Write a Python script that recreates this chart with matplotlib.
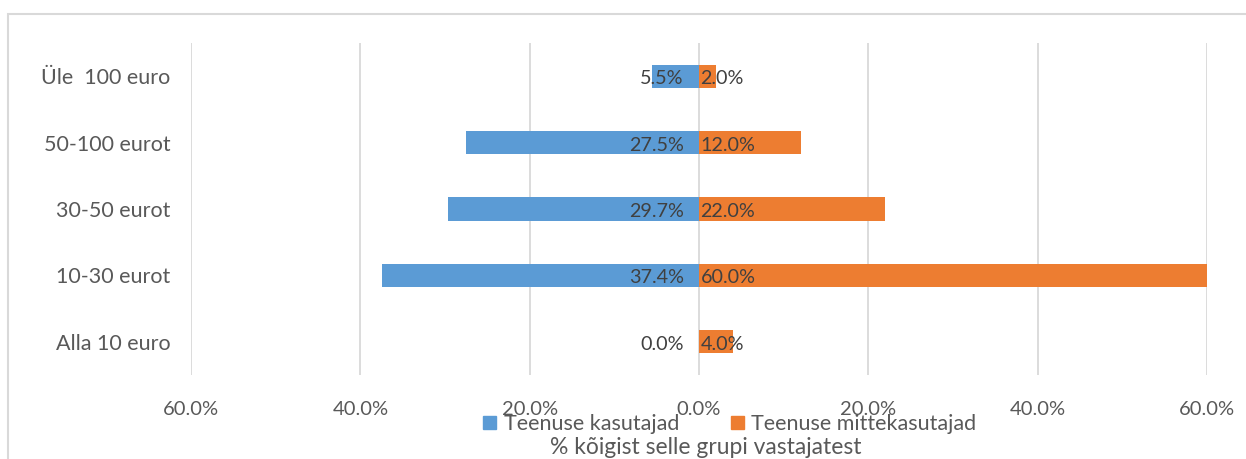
import matplotlib
matplotlib.use("Agg")
import matplotlib.pyplot as plt
from matplotlib.patches import Rectangle, Patch
from matplotlib.ticker import FuncFormatter, FixedLocator

plt.rcParams['font.family'] = ['Lato', 'DejaVu Sans']

categories = ["Üle  100 euro", "50-100 eurot", "30-50 eurot", "10-30 eurot", "Alla 10 euro"]
users = [5.5, 27.5, 29.7, 37.4, 0.0]
non_users = [2.0, 12.0, 22.0, 60.0, 4.0]
series_names = ["Teenuse kasutajad", "Teenuse mittekasutajad"]
xticks = [-60, -40, -20, 0, 20, 40, 60]
x_title = "% kõigist selle grupi vastajatest"

blue = "#5B9BD5"
orange = "#ED7D31"

fig = plt.figure(figsize=(12.46, 4.59), dpi=100)
ax = fig.add_axes([191/1246, 1-375/459, (1207-191)/1246, (375-43)/459])

ypos = list(range(len(categories)))[::-1]
ax.barh(ypos, [-v for v in users], height=0.35, color=blue, zorder=3)
ax.barh(ypos, non_users, height=0.35, color=orange, zorder=3)

for y, v in zip(ypos, users):
    ax.annotate(f"{v:.1f}%", (0, y), xytext=(-11, -1.8), textcoords="offset points",
                ha="right", va="center", fontsize=14.2, color="#404040", zorder=4)
for y, v in zip(ypos, non_users):
    ax.annotate(f"{v:.1f}%", (0, y), xytext=(1, -1.8), textcoords="offset points",
                ha="left", va="center", fontsize=14.2, color="#404040", zorder=4)

ax.set_xlim(-60, 60)
ax.set_ylim(-0.5, 4.5)
ax.xaxis.set_major_locator(FixedLocator(xticks))
ax.xaxis.set_major_formatter(FuncFormatter(lambda v, p: f"{abs(v):.1f}%"))
ax.set_yticks(ypos)
ax.set_yticklabels(categories)
ax.tick_params(axis="both", length=0, colors="#595959")
ax.tick_params(axis="x", pad=19, labelsize=14.5)
ax.tick_params(axis="y", pad=15, labelsize=15.5)
ax.grid(axis="x", color="#D9D9D9", linewidth=1.3, zorder=0)
for s in ax.spines.values():
    s.set_visible(False)

# outer chart border
fig.add_artist(Rectangle((8/1246, -0.1), 1.2, 1-14/459+0.1, transform=fig.transFigure,
                         fill=False, edgecolor="#D9D9D9", linewidth=1.5))

handles = [Patch(color=blue), Patch(color=orange)]
fig.legend(handles, series_names, loc="center", bbox_to_anchor=(730/1246, 1-424/459),
           ncol=2, frameon=False, fontsize=15.5, labelcolor="#595959",
           handlelength=0.6, handleheight=0.6, handletextpad=0.35, columnspacing=2.4,
           borderpad=0, borderaxespad=0)
fig.text(706/1246, 1-447/459, x_title, ha="center", va="center", fontsize=16.5,
         color="#595959")

fig.savefig("out.png", dpi=100)
